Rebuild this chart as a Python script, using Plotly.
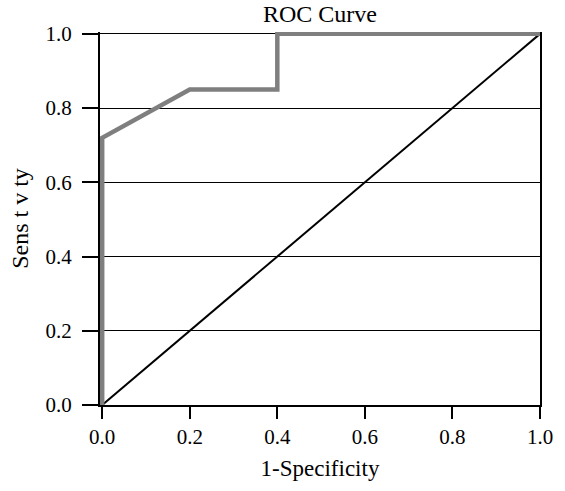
import plotly.graph_objects as go

# ROC curve points
fpr = [0.0, 0.0, 0.2, 0.4, 0.4, 1.0]
tpr = [0.0, 0.72, 0.85, 0.85, 1.0, 1.0]
# reference diagonal
diag_x = [0.0, 1.0]
diag_y = [0.0, 1.0]

tick_vals = [0.0, 0.2, 0.4, 0.6, 0.8, 1.0]
tick_text = ["0.0", "0.2", "0.4", "0.6", "0.8", "1.0"]

FONT = "Liberation Serif"

fig = go.Figure()
fig.add_trace(go.Scatter(x=diag_x, y=diag_y, mode="lines",
                         line=dict(color="black", width=2),
                         cliponaxis=False, showlegend=False))
fig.add_trace(go.Scatter(x=fpr, y=tpr, mode="lines",
                         line=dict(color="#7f7f7f", width=4.5),
                         cliponaxis=False, showlegend=False))

fig.update_layout(
    width=565, height=491,
    margin=dict(l=100, r=25, t=32, b=86),
    paper_bgcolor="white", plot_bgcolor="white",
    font=dict(family=FONT, color="black", size=21),
    title=dict(text="ROC Curve", x=0.5, xref="paper", xanchor="center",
               y=0.99, yref="container", yanchor="top",
               font=dict(family=FONT, size=24, color="black")),
    xaxis=dict(range=[-0.005, 1], tickvals=tick_vals, ticktext=tick_text,
               showgrid=False, zeroline=False,
               showline=True, linecolor="black", linewidth=2,
               mirror=False, ticks="outside", ticklen=12, tickwidth=2,
               tickcolor="black", layer="below traces",
               title=dict(text="1-Specificity", standoff=12,
                          font=dict(family=FONT, size=23))),
    yaxis=dict(range=[0, 1.005], tickvals=tick_vals, ticktext=tick_text,
               showgrid=True, gridcolor="black", gridwidth=1,
               zeroline=False,
               showline=True, linecolor="black", linewidth=2,
               mirror=True, ticks="outside", ticklen=16, tickwidth=2,
               tickcolor="black", layer="below traces",
               ticklabelstandoff=6,
               title=dict(text="Sens t v ty", standoff=10,
                          font=dict(family=FONT, size=24))),
)

fig.write_html("out.html", config={"displayModeBar": False},
               post_script="document.body.style.margin='0';document.body.style.overflow='hidden';")
